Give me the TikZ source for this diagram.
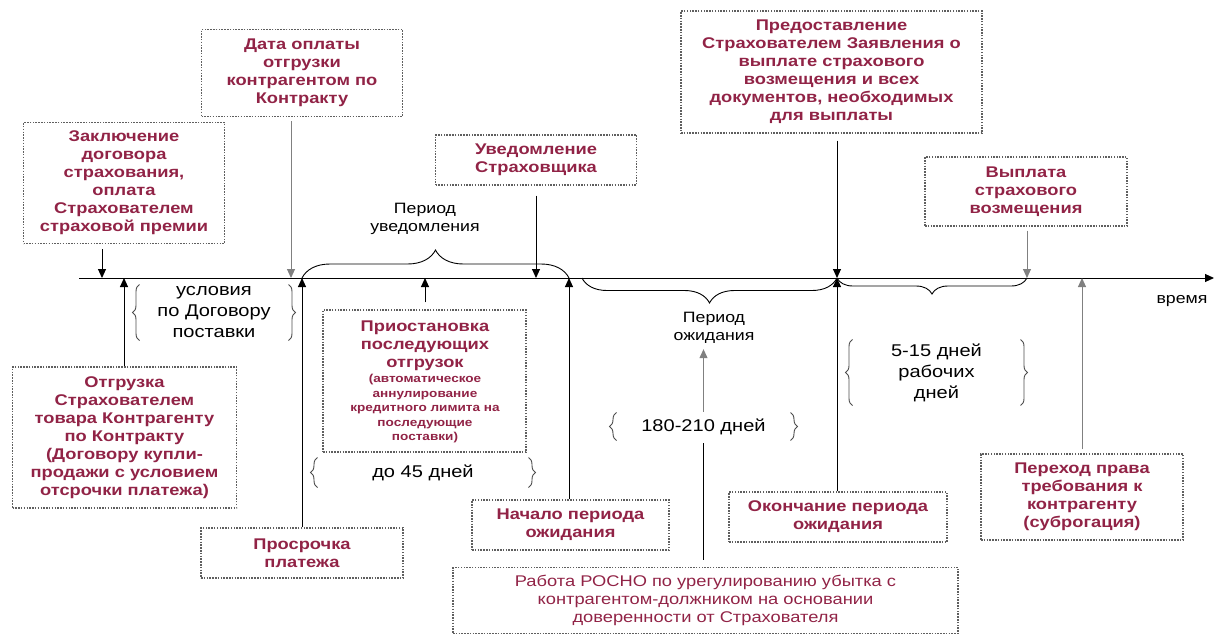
\documentclass[tikz,border=0pt]{standalone}
\usepackage{fontspec}
\setmainfont{Liberation Sans}[FakeStretch=1.18]
\usetikzlibrary{arrows.meta,decorations.pathreplacing}

\definecolor{eventred}{RGB}{145,35,70}
\definecolor{framegray}{RGB}{95,95,95}

\tikzset{
  event/.style={draw=framegray, line width=1.3pt, dash pattern=on 1.5pt off 1.3pt,
    text=eventred, align=center, inner sep=0pt,
    font=\fontsize{15.5}{18}\selectfont\bfseries},
  note/.style={align=center, inner sep=0pt, font=\fontsize{17}{21}\selectfont},
  period/.style={align=center, inner sep=0pt, font=\fontsize{15}{18}\selectfont},
  curly/.style={decorate, decoration={brace, amplitude=#1}, line width=0.9pt},
  curly/.default=7pt,
}

\begin{document}
\begin{tikzpicture}[x=1pt, y=-1pt, >={Triangle[length=9pt,width=8pt]}, line width=1pt]
  \useasboundingbox (0,0) rectangle (1216,635);

  % time axis and the points on it
  \coordinate (axisStart) at (79,278);
  \coordinate (axisEnd) at (1214,278);
  \coordinate (tZakl) at (102,278);
  \coordinate (tOtgr) at (124,278);
  \coordinate (tData) at (291,278);
  \coordinate (tPros) at (302,278);
  \coordinate (tPrio) at (425,278);
  \coordinate (tUved) at (536,278);
  \coordinate (tNach) at (569,278);
  \coordinate (tWait) at (582,278);
  \coordinate (tPred) at (837,278);
  \coordinate (tVypl) at (1027,278);
  \coordinate (tPere) at (1082,278);
  \draw[->] (axisStart) -- (axisEnd);
  \node[period] (vremya) at (1182,301) {время};

  % events above the axis
  \node[event, minimum width=201pt, minimum height=121pt] (zakl) at (124,183)
    {Заключение\\договора\\страхования,\\оплата\\Страхователем\\страховой премии};
  \node[event, minimum width=201pt, minimum height=87pt] (data) at (302,73)
    {Дата оплаты\\отгрузки\\контрагентом по\\Контракту};
  \node[event, minimum width=201pt, minimum height=50pt] (uved) at (536,160)
    {Уведомление\\Страховщика};
  \node[event, minimum width=301pt, minimum height=122pt] (pred) at (831.5,72)
    {Предоставление\\Страхователем Заявления о\\выплате страхового\\возмещения и всех\\документов, необходимых\\для выплаты};
  \node[event, minimum width=202pt, minimum height=69pt] (vypl) at (1026,191.5)
    {Выплата\\страхового\\возмещения};

  % events below the axis
  \node[event, minimum width=224pt, minimum height=141pt] (otgr) at (124.5,437.5)
    {Отгрузка\\Страхователем\\товара Контрагенту\\по Контракту\\(Договору купли-\\продажи с условием\\отсрочки платежа)};
  \node[event, minimum width=203pt, minimum height=142pt] (prio) at (424.5,381) {};
  \node[event, draw=none] (prioTitle) at (425,346)
    {Приостановка\\последующих\\отгрузок};
  \node[event, draw=none, font=\fontsize{11.5}{14.5}\selectfont\bfseries] (prioNote) at (425,409)
    {(автоматическое\\аннулирование\\кредитного лимита на\\последующие\\поставки)};
  \node[event, minimum width=202pt, minimum height=50pt] (pros) at (302,553)
    {Просрочка\\платежа};
  \node[event, minimum width=197pt, minimum height=50pt] (nach) at (570.5,525)
    {Начало периода\\ожидания};
  \node[event, minimum width=218pt, minimum height=50pt] (okon) at (838,517)
    {Окончание периода\\ожидания};
  \node[event, minimum width=505pt, minimum height=66pt, font=\fontsize{15.5}{18}\selectfont] (rosno) at (705.5,600.5)
    {Работа РОСНО по урегулированию убытка с\\контрагентом-должником на основании\\доверенности от Страхователя};
  \node[event, minimum width=202pt, minimum height=86pt] (pere) at (1082,497)
    {Переход права\\требования к\\контрагенту\\(суброгация)};

  % periods
  \node[period] (perUved) at (425,219) {Период\\уведомления};
  \node[period] (perWait) at (714,328) {Период\\ожидания};
  \node[note, minimum width=148pt, minimum height=55pt] (cond) at (214,312.5)
    {условия\\по Договору\\поставки};
  \node[note, minimum width=210pt, minimum height=29pt] (d45) at (423,472.5) {до 45 дней};
  \node[note, minimum width=173pt, minimum height=27pt] (d180) at (703.5,426.5) {180-210 дней};
  \node[note, minimum width=167pt, minimum height=65pt] (d515) at (936.5,372.5)
    {5-15 дней\\рабочих\\дней};

  % braces on the axis
  \draw[curly=28pt] (tPros) -- (tNach);
  \draw[curly=25pt] (tPred) -- (tWait);
  \draw[curly=16pt] (tVypl) -- (tPred);

  % braces round the day counts
  \foreach \n in {cond,d45,d180,d515} {
    \draw[curly, black!70, line width=0.9pt] (\n.south west) -- (\n.north west);
    \draw[curly, black!70, line width=0.9pt] (\n.north east) -- (\n.south east);
  }

  % arrows down to the axis
  \draw[->, shorten <=5pt] (zakl.south -| tZakl) -- (tZakl);
  \draw[->, gray, shorten <=4pt] (data.south -| tData) -- (tData);
  \draw[->, shorten <=10pt] (uved.south -| tUved) -- (tUved);
  \draw[->, shorten <=7pt] (pred.south -| tPred) -- (tPred);
  \draw[->, gray, shorten <=4pt] (vypl.south -| tVypl) -- (tVypl);

  % arrows up to the axis
  \draw[->] (otgr.north -| tOtgr) -- (tOtgr);
  \draw[->, shorten <=7pt] (prio.north -| tPrio) -- (tPrio);
  \draw[->] (pros.north -| tPros) -- (tPros);
  \draw[->] (nach.north -| tNach) -- (tNach);
  \draw[->] (okon.north -| tPred) -- (tPred);
  \draw[->, gray, shorten <=4pt] (pere.north -| tPere) -- (tPere);

  % work of ROSNO during the waiting period
  \draw[shorten <=7pt, shorten >=2pt] (rosno.north -| d180) -- (d180.south);
  \draw[->, gray, shorten <=1pt, shorten >=5pt] (d180.north) -- (d180.north |- perWait.south);
\end{tikzpicture}
\end{document}
